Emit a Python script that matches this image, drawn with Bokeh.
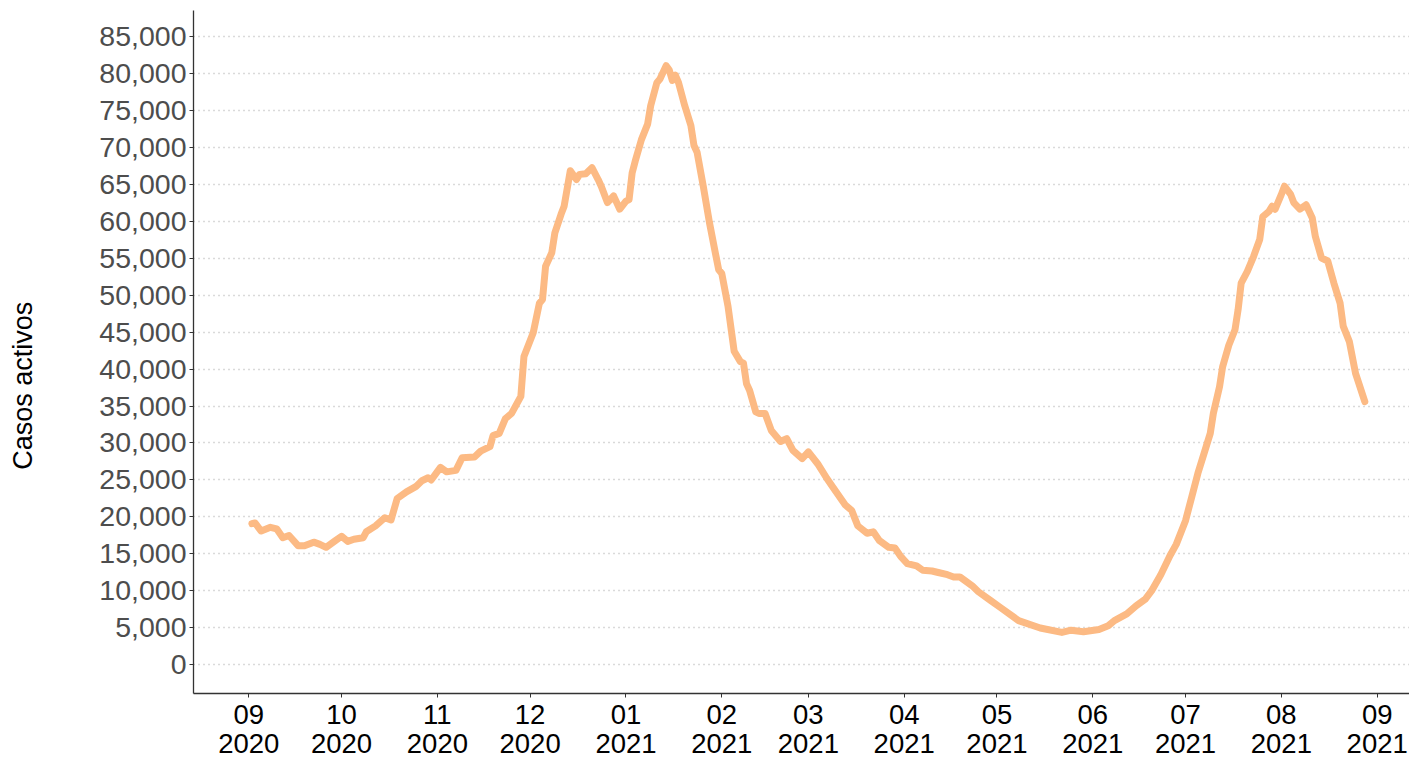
import numpy as np
import pandas as pd
from bokeh.plotting import figure
from bokeh.models import Range1d, FixedTicker, DatetimeTickFormatter, NumeralTickFormatter
from bokeh.embed import file_html
from bokeh.resources import INLINE

start_date = "2020-09-01"
days_since_start = [
    1, 2, 4, 7, 9, 11, 13, 16, 18, 21, 23, 25, 28, 30, 32, 34, 37, 38, 41, 44,
    46, 48, 51, 54, 56, 58, 59, 62, 64, 67, 69, 73, 75, 78, 79, 81, 83, 85, 88, 89,
    92, 94, 95, 96, 98, 99, 101, 102, 104, 106, 107, 109, 111, 113, 114, 116, 118, 120, 122, 123,
    124, 125, 127, 129, 130, 132, 133, 135, 136, 137, 138, 139, 141, 143, 144, 145, 147, 149, 151, 152,
    153, 155, 157, 159, 160, 161, 162, 164, 165, 167, 169, 172, 174, 176, 179, 181, 184, 187, 189, 193,
    195, 197, 200, 202, 204, 207, 209, 211, 213, 216, 218, 221, 223, 226, 228, 230, 234, 236, 240, 243,
    249, 256, 263, 266, 270, 275, 278, 280, 284, 287, 290, 292, 295, 298, 300, 303, 305, 307, 309, 311,
    312, 314, 315, 317, 319, 320, 321, 323, 325, 327, 328, 330, 331, 332, 334, 335, 337, 338, 340, 342,
    344, 345, 347, 349, 351, 353, 354, 356, 358, 361,
]
casos_activos = [
    19100, 19200, 18100, 18600, 18400, 17200, 17500, 16100, 16100, 16600, 16300, 15900, 16800, 17400, 16700, 17000, 17200, 18000, 18800, 19900,
    19600, 22500, 23400, 24100, 24900, 25300, 25000, 26700, 26100, 26300, 28000, 28100, 28900, 29500, 31000, 31300, 33300, 34000, 36300, 41700,
    44900, 48900, 49400, 53900, 55700, 58400, 60900, 62000, 66800, 65600, 66300, 66400, 67200, 65600, 64700, 62500, 63400, 61600, 62700, 62900,
    66500, 68100, 71000, 73100, 75600, 78700, 79200, 81000, 80400, 79000, 79700, 78700, 75600, 72900, 70200, 69300, 64700, 59800, 55500, 53400,
    52900, 48500, 42400, 41000, 40800, 38000, 37100, 34200, 34000, 34000, 31700, 30200, 30600, 29000, 27900, 28800, 27200, 25200, 24000, 21600,
    20900, 18800, 17800, 18000, 16800, 15900, 15800, 14600, 13700, 13400, 12800, 12700, 12500, 12200, 11900, 11900, 10700, 9900, 8700, 7800,
    6000, 5000, 4400, 4700, 4500, 4800, 5300, 6000, 6900, 8000, 8900, 10000, 12200, 14800, 16300, 19500, 22700, 25900, 28600, 31300,
    34000, 37600, 40300, 43200, 45300, 48000, 51600, 53200, 55200, 57500, 60600, 61300, 62000, 61600, 63600, 64700, 63600, 62500, 61600, 62200,
    60400, 57900, 55000, 54600, 51600, 48900, 45800, 43700, 39400, 35600,
]
month_ticks = pd.date_range("2020-09-01", "2021-09-01", freq="MS")
y_ticks = list(range(0, 85001, 5000))

base = pd.Timestamp(start_date)
dates = [base + pd.Timedelta(days=d) for d in days_since_start]

p = figure(
    frame_width=1216, frame_height=683,
    min_border_left=193, min_border_right=0, min_border_top=10, min_border_bottom=0,
    x_axis_type="datetime",
    x_range=Range1d(base - pd.Timedelta(days=17.89), base + pd.Timedelta(days=375.45)),
    y_range=Range1d(-3854, 88450),
    output_backend="svg", toolbar_location=None,
)
p.outline_line_color = None
p.background_fill_color = "white"
p.border_fill_color = "white"

p.line(dates, casos_activos, line_color="#FCBA84", line_width=7, line_join="round", line_cap="round")

p.xgrid.grid_line_color = None
p.ygrid.grid_line_color = "#b4b4b4"
p.ygrid.grid_line_dash = "1 4"
p.ygrid.grid_line_width = 1.3

# y axis
p.yaxis.ticker = FixedTicker(ticks=y_ticks)
p.yaxis.formatter = NumeralTickFormatter(format="0,0")
p.yaxis.axis_label = "Casos activos" + "\u00a0" * 9
p.yaxis.axis_label_text_font = "Liberation Sans"
p.yaxis.axis_label_text_font_style = "normal"
p.yaxis.axis_label_text_font_size = "27px"
p.yaxis.axis_label_text_color = "black"
p.yaxis.axis_label_standoff = 58
p.yaxis.major_label_text_font = "Liberation Sans"
p.yaxis.major_label_text_font_size = "28.5px"
p.yaxis.major_label_text_color = "#4d4d4d"
p.yaxis.major_label_standoff = 3
p.yaxis.major_tick_out = 4
p.yaxis.major_tick_in = 0
p.yaxis.minor_tick_line_color = None
p.yaxis.major_tick_line_color = "#333333"
p.yaxis.axis_line_color = "#333333"
p.yaxis.axis_line_width = 1.3

# x axis
tick_ms = [int(t.value // 10**6) for t in month_ticks]
p.xaxis.ticker = FixedTicker(ticks=tick_ms)
fmt = "%m\n%Y"
p.xaxis.formatter = DatetimeTickFormatter(
    days=fmt, months=fmt, years=fmt, hours=fmt, minutes=fmt, seconds=fmt,
    milliseconds=fmt, microseconds=fmt, hourmin=fmt, minsec=fmt,
)
p.xaxis.major_label_text_font = "Liberation Sans"
p.xaxis.major_label_text_font_size = "27.5px"
p.xaxis.major_label_text_color = "black"
p.xaxis.major_label_text_line_height = 0.95
p.xaxis.major_label_standoff = 1
p.xaxis.major_tick_out = 4
p.xaxis.major_tick_in = 0
p.xaxis.minor_tick_line_color = None
p.xaxis.major_tick_line_color = "#333333"
p.xaxis.axis_line_color = "#333333"
p.xaxis.axis_line_width = 1.3

open("out.html", "w").write(file_html(p, INLINE))
